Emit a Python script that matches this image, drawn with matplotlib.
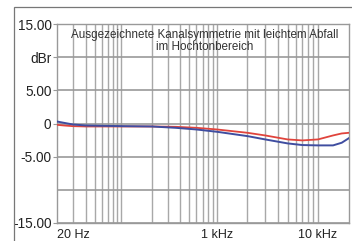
import numpy as np
import matplotlib.pyplot as plt
from matplotlib.patches import Rectangle

plt.rcParams['font.family'] = ['Liberation Sans', 'DejaVu Sans']

# measured response (Hz / dBr)
freq = [12, 15, 20, 30, 50, 100, 200, 360, 600, 1000, 2000, 3000,
        5000, 7000, 10000, 14000, 17000, 20000]
left_ch = [0.3, 0.1, -0.15, -0.3, -0.35, -0.4, -0.45, -0.65, -0.9, -1.25,
           -1.9, -2.4, -3.0, -3.25, -3.3, -3.3, -2.9, -2.2]
right_ch = [-0.2, -0.3, -0.4, -0.45, -0.45, -0.45, -0.45, -0.5, -0.65, -0.9,
            -1.4, -1.8, -2.4, -2.55, -2.4, -1.8, -1.5, -1.4]

y_ticks = [15, 10, 5, 0, -5, -10, -15]
y_labels = ['15.00', 'dBr', '5.00', '0', '-5.00', '', '-15.00']
x_labelled = {20: '20 Hz', 1000: '1 kHz', 10000: '10 kHz'}
grid_freqs = [m * d for d in (10, 100, 1000) for m in range(2, 10)] + [1000, 10000]
grid_freqs = sorted(set(f for f in grid_freqs if f >= 20))

title = 'Ausgezeichnete Kanalsymmetrie mit leichtem Abfall\nim Hochtonbereich'

# the printed chart has uneven decades: calibrate a piecewise log axis
LOG_ANCHORS = [np.log10(12), np.log10(20), 2, 3, 4, np.log10(20000)]
PX_ANCHORS = [57, 73, 124, 217, 318, 349]

def fwd(f):
    f = np.asarray(f, dtype=float)
    return np.interp(np.log10(np.clip(f, 1e-6, None)), LOG_ANCHORS, PX_ANCHORS)

def inv(x):
    return 10 ** np.interp(np.asarray(x, dtype=float), PX_ANCHORS, LOG_ANCHORS)

fig = plt.figure(figsize=(3.52, 2.41), dpi=100)
fig.patches.append(Rectangle((14 / 352, -0.1), 2, 1 - 7 / 241 + 0.1,
                             transform=fig.transFigure, fill=False,
                             edgecolor='#777777', linewidth=0.9))
ax = fig.add_axes([57 / 352, 1 - 223 / 241, 292 / 352, 199 / 241])
ax.set_xscale('function', functions=(fwd, inv))
ax.set_xlim(12, 20000)
ax.set_ylim(-15, 15)

for f in grid_freqs:
    ax.axvline(f, color='#a8a8a8', linewidth=1.0, zorder=1)
for y in y_ticks:
    ax.axhline(y, color='#999999', linewidth=1.2, zorder=1)

ax.plot(freq, right_ch, color='#e0443c', linewidth=1.3, zorder=3)
ax.plot(freq, left_ch, color='#3f4da0', linewidth=1.4, zorder=3)

ax.set_xticks(list(x_labelled.keys()), labels=list(x_labelled.values()))
ax.xaxis.set_minor_locator(plt.NullLocator())
ax.tick_params(axis='x', length=0, pad=4, labelsize=9, labelcolor='#222222')
ax.set_yticks(y_ticks, labels=y_labels)
ax.tick_params(axis='y', length=3, width=0.8, color='#999999', pad=1,
               labelsize=9.8, labelcolor='#222222')
ax.yaxis.get_major_ticks()[5].tick1line.set_visible(False)
for s in ax.spines.values():
    s.set_color('#999999')
    s.set_linewidth(1.0)

ax.text(0.505, 0.975, title, transform=ax.transAxes, ha='center', va='top',
        fontsize=8.4, color='#333333', linespacing=0.95, zorder=4)

fig.savefig('out.png', dpi=100)
